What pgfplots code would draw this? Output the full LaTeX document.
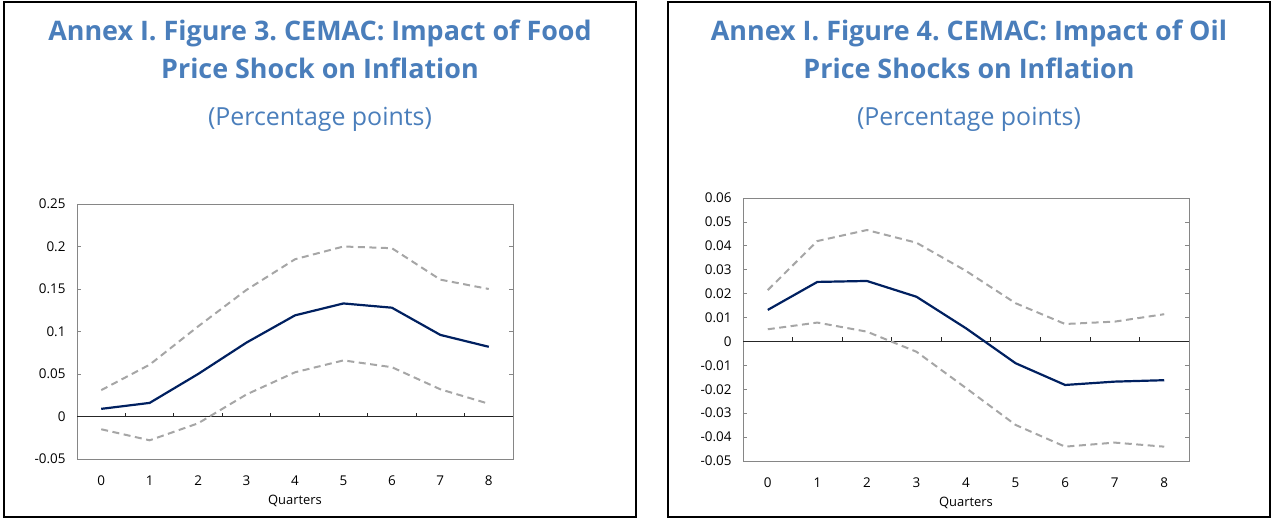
\documentclass[border=0pt]{standalone}
\usepackage{fontspec}
\setmainfont{Open Sans}
\usepackage{pgfplots}
\usepackage{pgfplotstable}
\pgfplotsset{compat=1.18}
\definecolor{titleblue}{RGB}{74,126,187}
\definecolor{navy}{RGB}{0,32,96}
\definecolor{dgray}{RGB}{166,166,166}
\definecolor{framegray}{RGB}{134,134,134}
\frenchspacing

\pgfplotstableread{
q mid up lo
0 0.009 0.031 -0.015
1 0.016 0.061 -0.028
2 0.050 0.106 -0.008
3 0.087 0.149 0.026
4 0.119 0.185 0.052
5 0.133 0.200 0.066
6 0.128 0.198 0.058
7 0.096 0.161 0.032
8 0.082 0.150 0.015
}\foodtab

\pgfplotstableread{
q mid up lo
0 0.0132 0.0215 0.0051
1 0.0249 0.0420 0.0079
2 0.0253 0.0466 0.0041
3 0.0187 0.0413 -0.0043
4 0.0055 0.0295 -0.0195
5 -0.0091 0.0160 -0.0349
6 -0.0182 0.0073 -0.0440
7 -0.0168 0.0083 -0.0423
8 -0.0162 0.0114 -0.0440
}\oiltab

\pgfplotsset{irf/.style={
  scale only axis,
  xmin=-0.5, xmax=8.5,
  xtick={0,...,8},
  major x tick style={draw=none},
  axis line style={framegray, line width=0.9bp},
  ytick style={framegray, line width=0.8bp},
  tick align=inside,
  major tick length=4bp,
  tick label style={font=\fontsize{13.5}{16}\selectfont, text=black},
  /pgf/number format/assume math mode=true,
  scaled y ticks=false,
  yticklabel style={/pgf/number format/fixed, /pgf/number format/precision=2, xshift=-8bp},
  xticklabel style={yshift=-13bp},
  xlabel={Quarters},
  xlabel style={font=\fontsize{13}{16}\selectfont, yshift=-3bp},
  clip=false,
}}

\begin{document}
\begin{tikzpicture}[x=1bp,y=-1bp]
\useasboundingbox (0,0) rectangle (1272,518);
\draw[black, line width=2bp] (4,2) rectangle (636,517);
\draw[black, line width=2bp] (668,2) rectangle (1270,517);

\node[anchor=base, text=titleblue, font=\fontsize{27}{32}\selectfont\bfseries] at (320,41) {Annex I. Figure 3. CEMAC: Impact of Food};
\node[anchor=base, text=titleblue, font=\fontsize{27}{32}\selectfont\bfseries] at (320,79) {Price Shock on Inflation};
\node[anchor=base, text=titleblue, font=\fontsize{25}{30}\selectfont] at (320,126) {(Percentage points)};

\node[anchor=base, text=titleblue, font=\fontsize{27}{32}\selectfont\bfseries] at (969,41) {Annex I. Figure 4. CEMAC: Impact of Oil};
\node[anchor=base, text=titleblue, font=\fontsize{27}{32}\selectfont\bfseries] at (969,79) {Price Shocks on Inflation};
\node[anchor=base, text=titleblue, font=\fontsize{25}{30}\selectfont] at (969,126) {(Percentage points)};

\begin{axis}[irf, at={(77bp,-204bp)}, anchor=north west, width=436bp, height=255bp,
  ymin=-0.05, ymax=0.25, ytick={-0.05,0,0.05,0.1,0.15,0.2,0.25}]
  \draw[black!85, line width=0.8bp] (axis cs:-0.5,0) -- (axis cs:8.5,0);
  \pgfplotsinvokeforeach{0.5,1.5,2.5,3.5,4.5,5.5,6.5,7.5}{\draw[black!85, line width=0.8bp] (axis cs:#1,0) -- ++(0bp,4bp);}
  \addplot[dgray, line width=2bp, dash pattern=on 7bp off 4.5bp] table[x=q,y=up] {\foodtab};
  \addplot[dgray, line width=2bp, dash pattern=on 7bp off 4.5bp] table[x=q,y=lo] {\foodtab};
  \addplot[navy, line width=2.2bp] table[x=q,y=mid] {\foodtab};
\end{axis}

\begin{axis}[irf, at={(743bp,-198bp)}, anchor=north west, width=446bp, height=263bp,
  ymin=-0.05, ymax=0.06, ytick={-0.05,-0.04,-0.03,-0.02,-0.01,0,0.01,0.02,0.03,0.04,0.05,0.06}]
  \draw[black!85, line width=0.8bp] (axis cs:-0.5,0) -- (axis cs:8.5,0);
  \pgfplotsinvokeforeach{0.5,1.5,2.5,3.5,4.5,5.5,6.5,7.5}{\draw[black!85, line width=0.8bp] (axis cs:#1,0) -- ++(0bp,4bp);}
  \addplot[dgray, line width=2bp, dash pattern=on 7bp off 4.5bp] table[x=q,y=up] {\oiltab};
  \addplot[dgray, line width=2bp, dash pattern=on 7bp off 4.5bp] table[x=q,y=lo] {\oiltab};
  \addplot[navy, line width=2.2bp] table[x=q,y=mid] {\oiltab};
\end{axis}
\end{tikzpicture}
\end{document}
